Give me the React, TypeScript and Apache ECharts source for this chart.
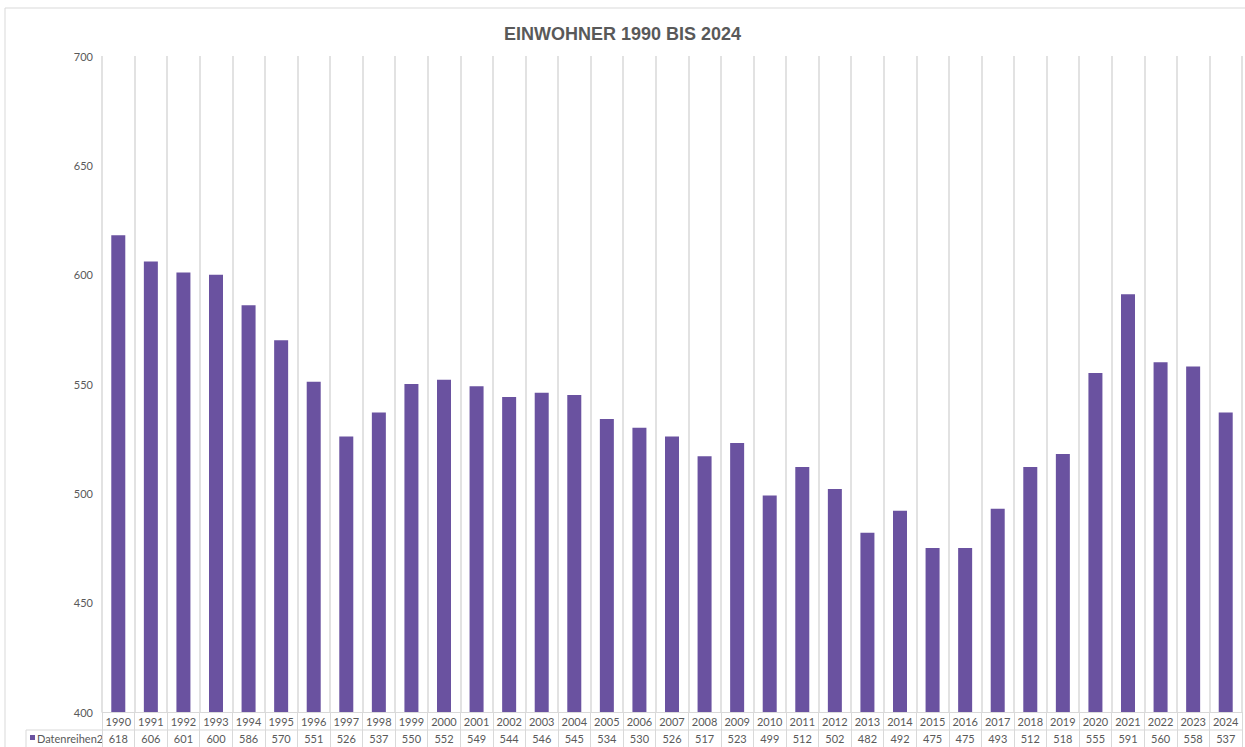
import React, { useEffect, useRef } from "react";
import * as echarts from "echarts";

const years = ["1990","1991","1992","1993","1994","1995","1996","1997","1998","1999","2000","2001","2002","2003","2004","2005","2006","2007","2008","2009","2010","2011","2012","2013","2014","2015","2016","2017","2018","2019","2020","2021","2022","2023","2024"];
const values = [618,606,601,600,586,570,551,526,537,550,552,549,544,546,545,534,530,526,517,523,499,512,502,482,492,475,475,493,512,518,555,591,560,558,537];
const seriesName = "Datenreihen2";
const titleText = "EINWOHNER 1990 BIS 2024";

const BAR = "#6A52A0";
const LINE = "#d9d9d9";
const TXT = "#595959";
const FONT = "Lato";

export default function App() {
  const ref = useRef<HTMLDivElement>(null);
  useEffect(() => {
    if (!ref.current) return;
    const chart = echarts.init(ref.current, null, { renderer: "svg" });
    chart.setOption({
      animation: false,
      backgroundColor: "#fff",
      title: {
        text: titleText,
        left: "center",
        top: 20,
        textStyle: { fontFamily: "Liberation Sans", fontWeight: "bold", fontSize: 18, color: TXT },
      },
      grid: { left: 102, right: 3, top: 56, bottom: 35 },
      xAxis: [
        {
          type: "category",
          data: years,
          boundaryGap: true,
          axisLine: { show: true, lineStyle: { color: LINE, width: 1 } },
          axisTick: { show: true, interval: 0, length: 35, lineStyle: { color: LINE, width: 1 } },
          splitLine: { show: true, interval: 0, lineStyle: { color: LINE, width: 1.5 } },
          axisLabel: { interval: 0, margin: 4, fontFamily: FONT, fontSize: 11, color: TXT },
        },
        {
          type: "category",
          data: values.map(String),
          position: "bottom",
          offset: 18,
          boundaryGap: true,
          axisLine: { show: false },
          axisTick: { show: false },
          splitLine: { show: false },
          axisLabel: { interval: 0, margin: 3, fontFamily: FONT, fontSize: 11, color: TXT },
        },
      ],
      yAxis: {
        type: "value",
        min: 400,
        max: 700,
        interval: 50,
        axisLine: { show: false },
        axisTick: { show: false },
        splitLine: { show: false },
        axisLabel: { margin: 9, fontFamily: FONT, fontSize: 11, color: TXT },
      },
      series: [
        {
          name: seriesName,
          type: "bar",
          data: values,
          barWidth: 14,
          itemStyle: { color: BAR },
        },
      ],
      graphic: [
        { type: "rect", shape: { x: 5, y: 8, width: 1250, height: 800 }, style: { fill: "none", stroke: LINE, lineWidth: 1 }, silent: true },
        { type: "line", shape: { x1: 26, y1: 730, x2: 1242, y2: 730 }, style: { stroke: LINE, lineWidth: 1 }, silent: true },
        { type: "line", shape: { x1: 26, y1: 730, x2: 26, y2: 747 }, style: { stroke: LINE, lineWidth: 1 }, silent: true },
        { type: "rect", shape: { x: 30, y: 735, width: 5, height: 5 }, style: { fill: BAR }, silent: true },
        { type: "text", x: 37, y: 738, style: { text: seriesName, fontFamily: FONT, fontSize: 11, fill: TXT, verticalAlign: "middle" }, silent: true },
      ],
    });
    return () => chart.dispose();
  }, []);
  return <div ref={ref} style={{ position: "fixed", left: 0, top: 0, width: 1245, height: 747 }} />;
}
